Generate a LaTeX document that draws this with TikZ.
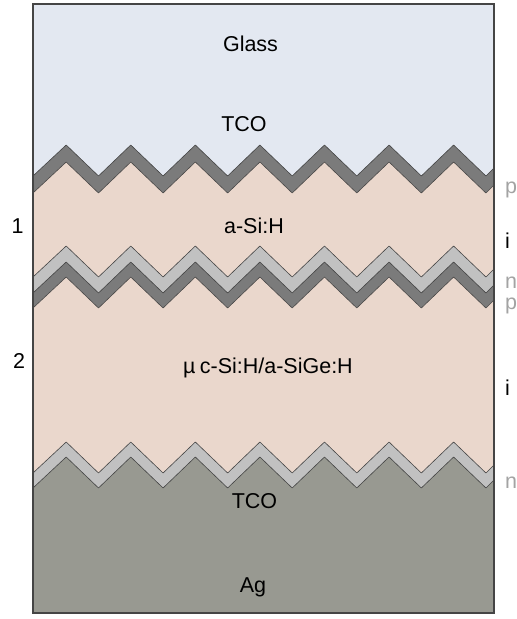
\documentclass[tikz,border=0pt]{standalone}
\usepackage{fontspec}
\setmainfont{Liberation Sans}

\definecolor{glassbg}{HTML}{E3E8F1}
\definecolor{siliconbg}{HTML}{EAD7CC}
\definecolor{darkband}{HTML}{7B7B7B}
\definecolor{lightband}{HTML}{C1C1C1}
\definecolor{metalbg}{HTML}{989991}
\definecolor{edgeline}{HTML}{454545}
\definecolor{dopedtxt}{HTML}{A3A3A3}

% Textured interface: a triangular wave whose peaks sit at height #1
% (y grows downwards), running across the whole stack.
\newcommand\zigpath[1]{(33,{#1+31})
  \foreach \k in {0,...,6}{ -- ({66.2+64.57*\k},{#1}) -- ({98.5+64.57*\k},{#1+31}) }
  -- (494,{#1+23})}
% Fill everything below an interface with one colour
\newcommand\filllayer[2]{\fill[#1] \zigpath{#2} -- (494,613) -- (33,613) -- cycle;}

\tikzset{
  lbl/.style={font=\fontsize{21.5}{24}\selectfont, inner sep=0pt, anchor=base},
  doped/.style={lbl, anchor=base west, text=dopedtxt},
  intrinsic/.style={lbl, anchor=base west, text=black},
  interface/.style={draw=edgeline, line width=0.6pt, line join=round},
}

\begin{document}
\begin{tikzpicture}[x=1pt,y=-1pt]
\useasboundingbox (0,0) rectangle (517,619);

% layer stack, painted from the top down
\fill[glassbg] (33,4) rectangle (494,613);
\filllayer{darkband}{145}
\filllayer{siliconbg}{162}
\filllayer{lightband}{246}
\filllayer{darkband}{262}
\filllayer{siliconbg}{277}
\filllayer{lightband}{442}
\filllayer{metalbg}{457}

% outlines of the doped layers
\foreach \p in {145,162,246,262,277,442,457}{
  \draw[interface] \zigpath{\p};
}

% frame
\draw[edgeline, line width=1.6pt] (33,4) rectangle (494,613);

% layer names
\node[lbl] (glass) at (250.5,51) {Glass};
\node[lbl] (tcotop) at (244,131) {TCO};
\node[lbl] (asih) at (254,233) {a-Si:H};
\node[lbl] (muc) at (268,373) {µ\hspace{0.2em}c-Si:H/a-SiGe:H};
\node[lbl] (tcobot) at (254.5,508) {TCO};
\node[lbl] (ag) at (253,592) {Ag};

% cell numbers
\node[lbl] (cell1) at (17.5,233) {1};
\node[lbl] (cell2) at (19,368) {2};

% p-i-n markers
\node[doped] (p1) at (505,193) {p};
\node[intrinsic] (i1) at (505,248) {i};
\node[doped] (n1) at (505,288) {n};
\node[doped] (p2) at (505,309) {p};
\node[intrinsic] (i2) at (505,395) {i};
\node[doped] (n2) at (505,488) {n};
\end{tikzpicture}
\end{document}
